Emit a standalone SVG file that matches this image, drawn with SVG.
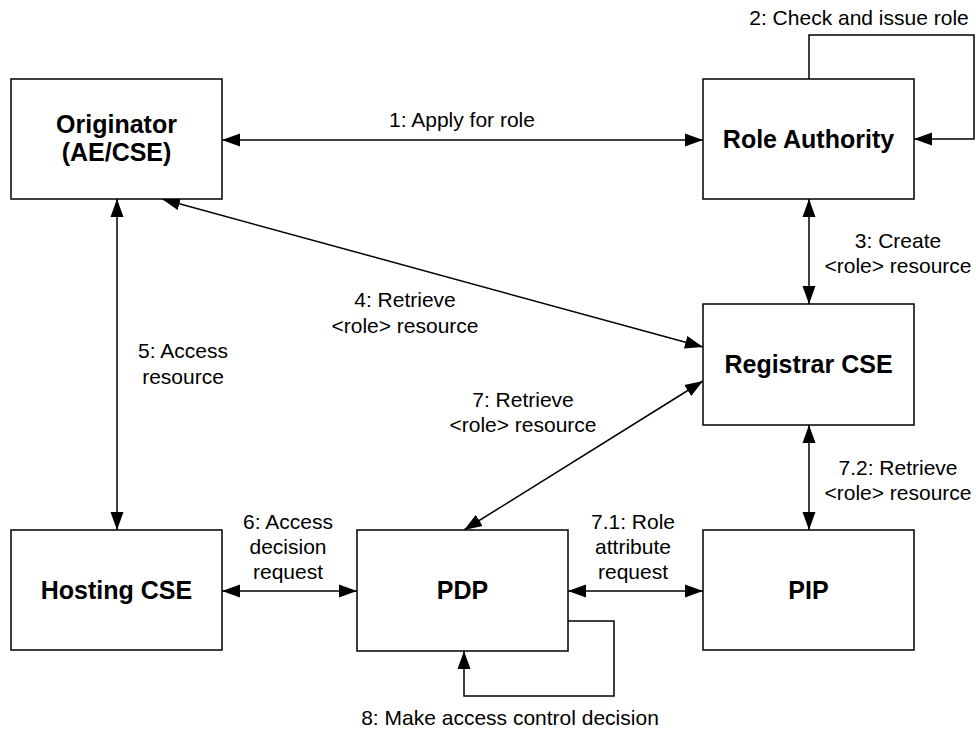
<svg xmlns="http://www.w3.org/2000/svg" width="976" height="729" viewBox="0 0 976 729">
<style>
.box{fill:#fff;stroke:#000;stroke-width:1.5}
.nl{font-family:"Liberation Sans",Arial,sans-serif;font-size:25px;font-weight:bold;fill:#000;text-anchor:middle}
.el{font-family:"Liberation Sans",Arial,sans-serif;font-size:21px;fill:#000;text-anchor:middle}
.c{fill:none;stroke:#000;stroke-width:1.5}
.bi{marker-start:url(#ah);marker-end:url(#ah)}
.one{marker-end:url(#ah)}
</style>
<defs>
<marker id="ah" markerUnits="userSpaceOnUse" markerWidth="19" markerHeight="14" refX="18" refY="6.5" orient="auto-start-reverse" viewBox="0 0 19 13">
<path d="M0,0 L18,6.5 L0,13 z" fill="#000"/>
</marker>
</defs>
<rect width="976" height="729" fill="#fff"/>
<g id="connectors">
<line class="c bi" x1="222" y1="140" x2="703" y2="140"/>
<polyline class="c one" points="809,79 809,35 974,35 974,139 914,139"/>
<line class="c bi" x1="809" y1="199" x2="809" y2="304"/>
<line class="c bi" x1="162" y1="199" x2="703" y2="347"/>
<line class="c bi" x1="117" y1="199" x2="117" y2="530"/>
<line class="c bi" x1="222" y1="591" x2="357" y2="591"/>
<line class="c bi" x1="703" y1="381" x2="464" y2="530"/>
<line class="c bi" x1="568" y1="591" x2="703" y2="591"/>
<line class="c bi" x1="809" y1="425" x2="809" y2="530"/>
<polyline class="c one" points="568,621 614,621 614,696 464,696 464,651"/>
</g>
<g id="labels">
<text class="el" x="462" y="127">1: Apply for role</text>
<text class="el" x="859" y="25">2: Check and issue role</text>
<text class="el" x="898" y="248">3: Create</text>
<text class="el" x="898" y="273">&lt;role&gt; resource</text>
<text class="el" x="405" y="307">4: Retrieve</text>
<text class="el" x="405" y="333">&lt;role&gt; resource</text>
<text class="el" x="183" y="358">5: Access</text>
<text class="el" x="183" y="384">resource</text>
<text class="el" x="288" y="529">6: Access</text>
<text class="el" x="288" y="554">decision</text>
<text class="el" x="288" y="579">request</text>
<text class="el" x="523" y="407">7: Retrieve</text>
<text class="el" x="523" y="432">&lt;role&gt; resource</text>
<text class="el" x="633" y="529">7.1: Role</text>
<text class="el" x="633" y="554">attribute</text>
<text class="el" x="633" y="579">request</text>
<text class="el" x="898" y="475">7.2: Retrieve</text>
<text class="el" x="898" y="500">&lt;role&gt; resource</text>
<text class="el" x="510" y="725">8: Make access control decision</text>
</g>
<g id="originator">
<rect class="box" x="11" y="79" width="211" height="120"/>
<text class="nl" x="116.5" y="133">Originator</text>
<text class="nl" x="116.5" y="161">(AE/CSE)</text>
</g>
<g id="role-authority">
<rect class="box" x="703" y="79" width="211" height="120"/>
<text class="nl" x="808.5" y="148">Role Authority</text>
</g>
<g id="registrar-cse">
<rect class="box" x="703" y="304" width="211" height="121"/>
<text class="nl" x="808.5" y="373">Registrar CSE</text>
</g>
<g id="hosting-cse">
<rect class="box" x="11" y="530" width="211" height="120"/>
<text class="nl" x="116.5" y="599">Hosting CSE</text>
</g>
<g id="pdp">
<rect class="box" x="357" y="530" width="211" height="121"/>
<text class="nl" x="462.5" y="599">PDP</text>
</g>
<g id="pip">
<rect class="box" x="703" y="530" width="211" height="120"/>
<text class="nl" x="808.5" y="599">PIP</text>
</g>
</svg>
